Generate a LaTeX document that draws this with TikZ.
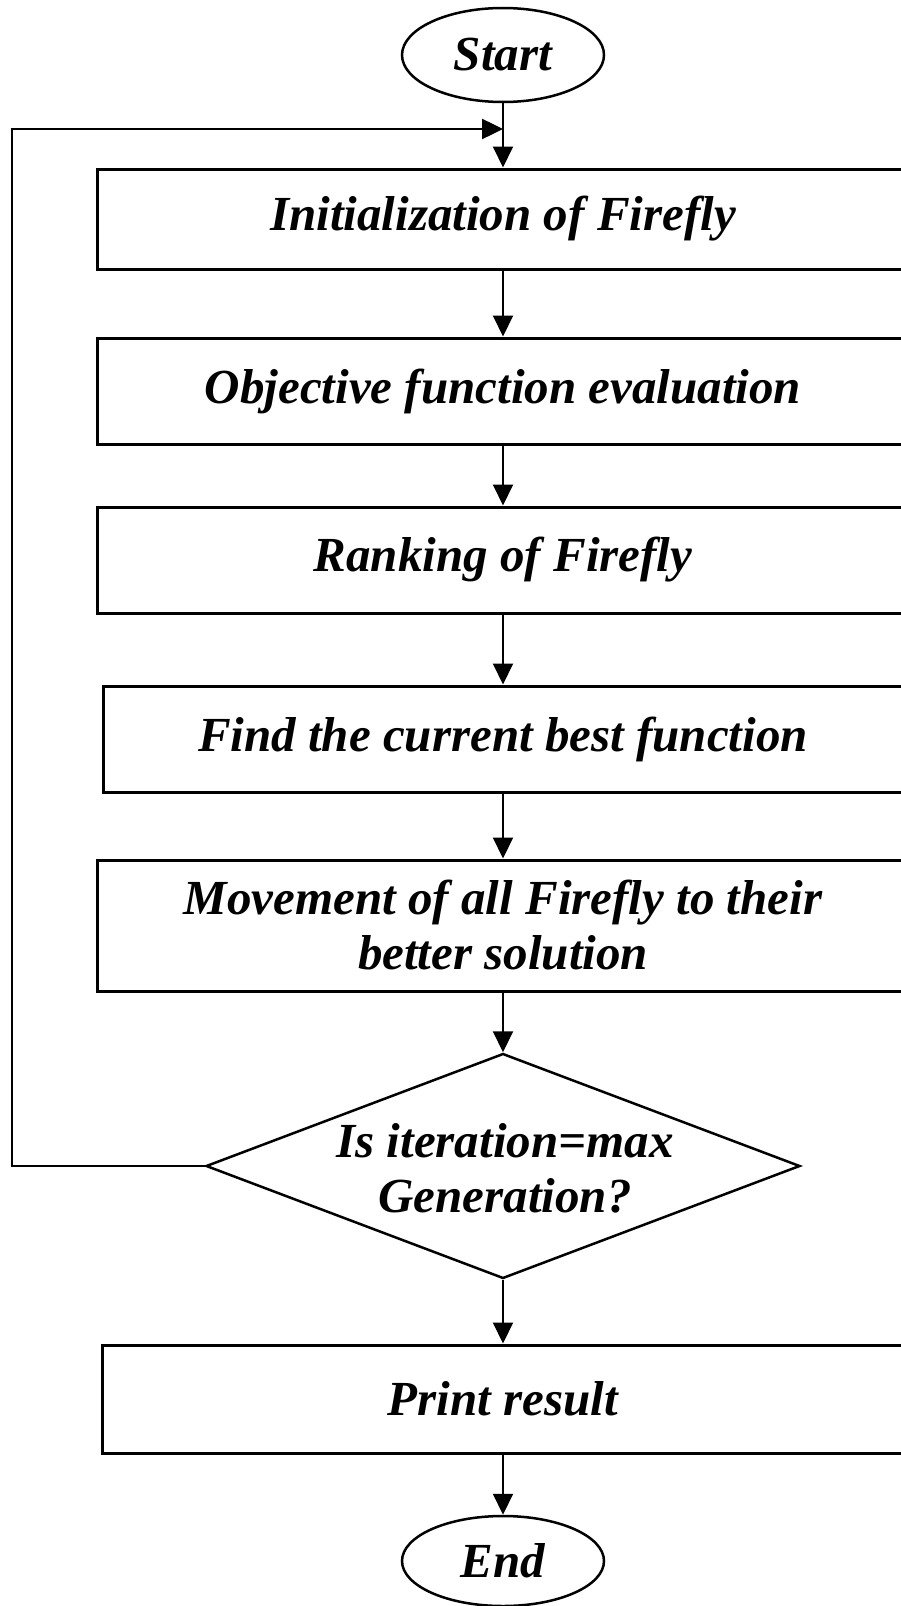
\documentclass[tikz,border=0pt]{standalone}
\usepackage{fontspec}
\setmainfont{Liberation Serif}
\usetikzlibrary{shapes.geometric,arrows.meta}
\begin{document}
\begin{tikzpicture}[x=1pt,y=-1pt,
  every node/.style={font=\fontsize{49}{55}\selectfont\bfseries\itshape,
    inner sep=0pt, align=center, text=black},
  terminal/.style={ellipse, draw, line width=2.5pt,
    minimum width=202pt, minimum height=94pt},
  stepbox/.style={rectangle, draw, line width=3pt},
  decision/.style={diamond, draw, line width=2.5pt,
    minimum width=594pt, minimum height=225pt},
  flow/.style={line width=2pt, line join=miter,
    -{Triangle[length=21pt,width=20pt]}}
]
\useasboundingbox (0,0) rectangle (901,1606);
\clip (0,0) rectangle (901,1606);
\fill[white] (0,0) rectangle (901,1606);

% terminals, process steps and the decision
\node[terminal] (start) at (503,55) {Start};
\node[stepbox, minimum width=812pt, minimum height=100pt] (init) at (503,219)
  {Initialization of Firefly};
\node[stepbox, minimum width=812pt, minimum height=106pt] (obj) at (503,391)
  {Objective function evaluation};
\node[stepbox, minimum width=812pt, minimum height=106pt] (rank) at (503,560)
  {Ranking of Firefly};
\node[stepbox, minimum width=800pt, minimum height=106pt] (find) at (503,739)
  {Find the current best function};
\node[stepbox, minimum width=812pt, minimum height=131pt] (move) at (503,925.5)
  {Movement of all Firefly to their\\better solution};
\node[decision] (dec) at (503,1166) {};
\node (dectext) at (505,1168) {Is iteration=max\\Generation?};
\node[stepbox, minimum width=802pt, minimum height=108pt] (print) at (503,1399)
  {Print result};
\node[terminal, minimum height=90pt] (end) at (503,1561) {End};

% main flow
\draw[flow] (start.south) -- (init.north);
\draw[flow] (init.south) -- (obj.north);
\draw[flow] (obj.south) -- (rank.north);
\draw[flow] (rank.south) -- (find.north);
\draw[flow] (find.south) -- (move.north);
\draw[flow] (move.south) -- (dec.north);
\draw[flow] (dec.south) -- (print.north);
\draw[flow] (print.south) -- (end.north);

% feedback loop back to the start of the iteration
\coordinate (join) at (503,129);
\coordinate (loopc) at (12,129);
\draw[flow, line width=2.5pt] (dec.west) -| (loopc) -- (join);
\end{tikzpicture}
\end{document}
